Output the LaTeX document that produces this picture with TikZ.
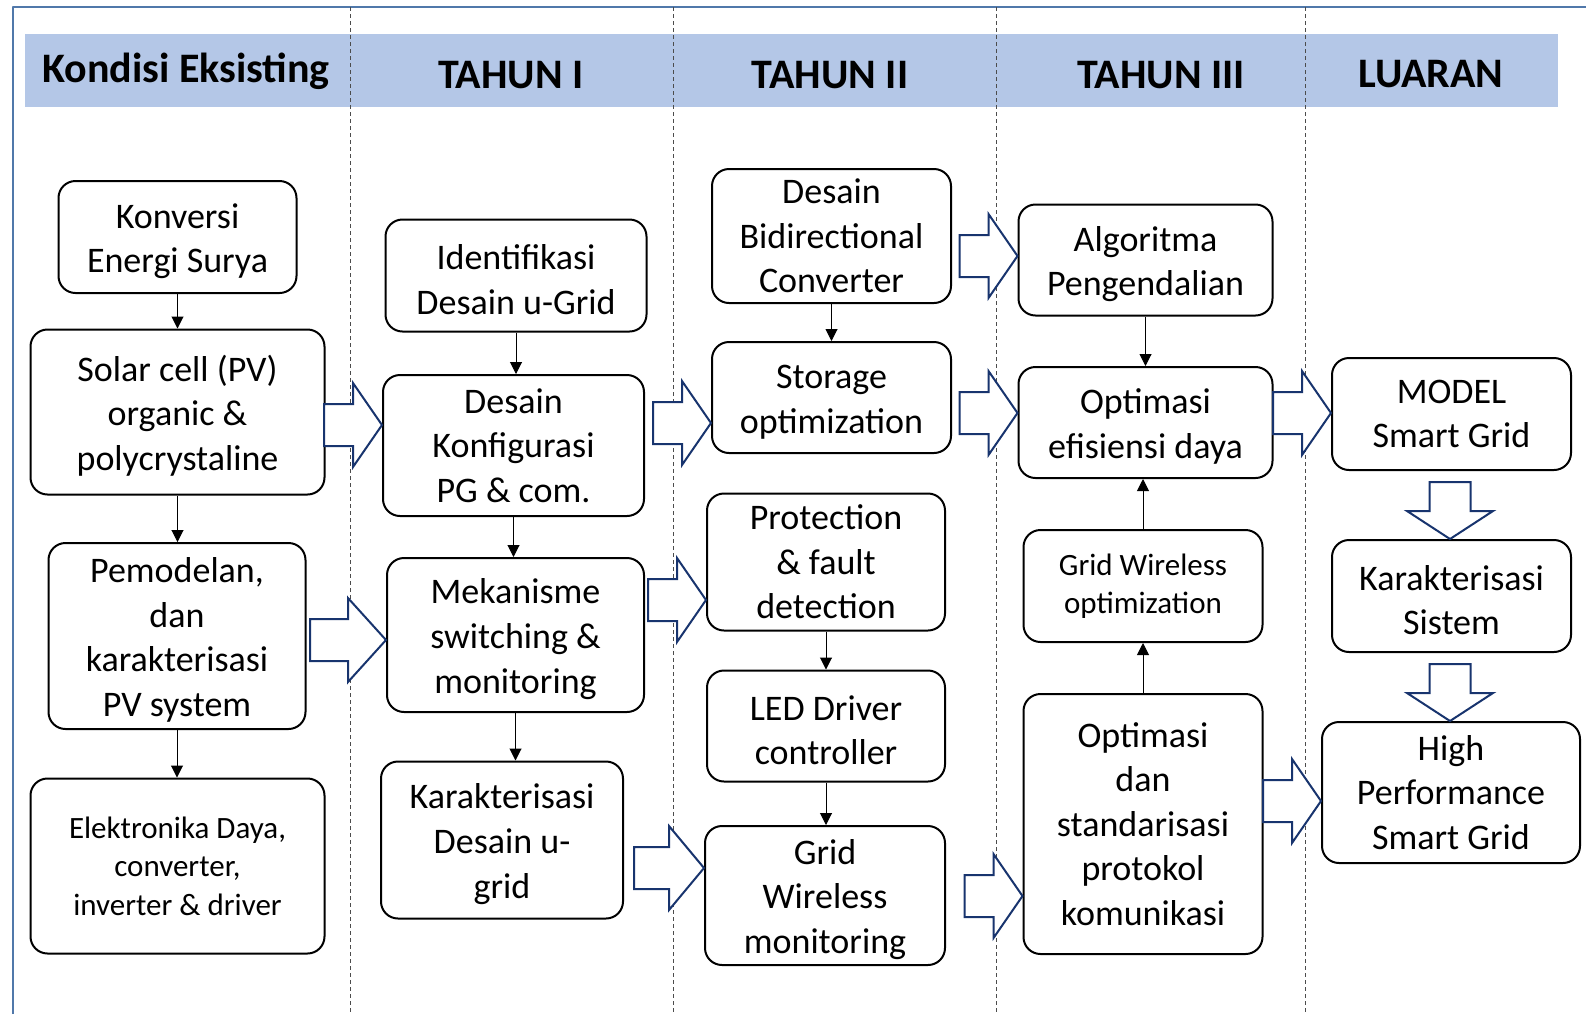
\documentclass[tikz,border=0pt]{standalone}
\usepackage{fontspec}
\setmainfont{Carlito}
\usetikzlibrary{arrows.meta}
\definecolor{garis}{RGB}{80,120,170}
\definecolor{pita}{RGB}{180,199,231}
\definecolor{panah}{RGB}{24,52,110}
\newcommand{\isi}{\fontsize{18}{22.3}\selectfont}
\newcommand{\isikecil}{\fontsize{15.5}{19.2}\selectfont}
\newcommand{\judul}{\fontsize{21}{25}\selectfont\bfseries}
\newcommand{\tg}{\rule{0pt}{16.5pt}}
% panah blok ke kanan: [panjang]{node tujuan}{y}
\newcommand{\panahkanan}[3][58]{%
	\begin{scope}[shift={(#2.west |- 0,#3)}]
		\draw[panahbesar] (0,0)--(-#1/2,-42)--(-#1/2,-21)--(-#1,-21)--(-#1,21)--(-#1/2,21)--(-#1/2,42)--cycle;
	\end{scope}}
% panah blok ke bawah: {node tujuan}{x}
\newcommand{\panahbawah}[2]{%
	\begin{scope}[shift={(#2,0 |- #1.north)}]
		\draw[panahbesar] (0,0)--(-43,-28)--(-20.5,-28)--(-20.5,-57)--(20.5,-57)--(20.5,-28)--(43,-28)--cycle;
	\end{scope}}
\begin{document}
\begin{tikzpicture}[x=0.5pt,y=-0.5pt,line join=round,
	kotak/.style={draw,fill=white,rounded corners=8.5pt,line width=1pt,align=center,inner sep=2pt,font=\isi},
	kecil/.style={font=\isikecil},
	ukuran/.style 2 args={minimum width=#1*0.5pt,minimum height=#2*0.5pt},
	kepala/.style={font=\judul,inner sep=0pt,anchor=base},
	panahtipis/.style={-{Triangle[length=6pt,width=6pt]},line width=0.5pt},
	panahbesar/.style={draw=panah,fill=white,line width=1pt,line join=miter}]
	\useasboundingbox (0,0) rectangle (1586,1014);
	% bingkai dan pita judul
	\draw[garis,line width=1pt] (13,1014)--(13,7)--(1586,7);
	\fill[pita] (25,34) rectangle (1558,107);
	\foreach \x in {350,673,996,1305}
		\draw[black!70,line width=0.5pt,dash pattern=on 2pt off 1.5pt] (\x,7)--(\x,1014);
	\node[kepala] (h1) at (186,82) {Kondisi Eksisting};
	\node[kepala] (h2) at (511,88) {TAHUN I};
	\node[kepala] (h3) at (830,88) {TAHUN II};
	\node[kepala] (h4) at (1161,88) {TAHUN III};
	\node[kepala] (h5) at (1431,87) {LUARAN};
	% kondisi eksisting
	\node[kotak,ukuran={238}{112}] (konversi) at (177.5,237) {\tg Konversi\\Energi Surya};
	\node[kotak,ukuran={294}{165}] (solar) at (177.5,412) {\tg Solar cell (PV)\\organic \&\\polycrystaline};
	\node[kotak,ukuran={257}{186}] (pemodelan) at (177,636) {\tg Pemodelan,\\dan\\karakterisasi\\PV system};
	\node[kotak,kecil,ukuran={294}{175}] (elektronika) at (177.5,866) {Elektronika Daya,\\converter,\\inverter \& driver};
	% tahun I
	\node[kotak,ukuran={261}{112}] (identifikasi) at (516,275.5) {\tg Identifikasi\\Desain u-Grid};
	\node[kotak,ukuran={261}{141}] (desain) at (513.5,445.5) {Desain\\Konfigurasi\\PG \& com.};
	\node[kotak,ukuran={257}{154}] (mekanisme) at (515.5,635) {\tg Mekanisme\\switching \&\\monitoring};
	\node[kotak,ukuran={242}{157}] (karakterisasi) at (502,840) {\tg Karakterisasi\\Desain u-\\grid};
	% tahun II
	\node[kotak,ukuran={239}{134}] (bidirectional) at (831.5,236) {Desain\\Bidirectional\\Converter};
	\node[kotak,ukuran={239}{111}] (storage) at (831.5,397.5) {\tg Storage\\optimization};
	\node[kotak,ukuran={238}{137}] (protection) at (826,562) {Protection\\\& fault\\detection};
	\node[kotak,ukuran={238}{111}] (led) at (826,726) {\tg LED Driver\\controller};
	\node[kotak,ukuran={240}{139}] (gridmon) at (825,895.5) {\tg Grid\\Wireless\\monitoring};
	% tahun III
	\node[kotak,ukuran={254}{111}] (algoritma) at (1145.5,260) {\tg Algoritma\\Pengendalian};
	\node[kotak,ukuran={254}{111}] (optimasi) at (1145.5,422.5) {\tg Optimasi\\efisiensi daya};
	\node[kotak,kecil,ukuran={239}{112}] (gridopt) at (1143,586) {Grid Wireless\\optimization};
	\node[kotak,ukuran={239}{260}] (protokol) at (1143,824) {Optimasi\\dan\\standarisasi\\protokol\\komunikasi};
	% luaran
	\node[kotak,ukuran={239}{112}] (model) at (1451.5,414) {MODEL\\Smart Grid};
	\node[kotak,ukuran={239}{112}] (sistem) at (1451.5,596) {\tg Karakterisasi\\Sistem};
	\node[kotak,ukuran={258}{141}] (high) at (1451,792.5) {High\\Performance\\Smart Grid};
	% panah tipis
	\draw[panahtipis] (konversi.south)--(konversi.south |- solar.north);
	\draw[panahtipis] (solar.south)--(solar.south |- pemodelan.north);
	\draw[panahtipis] (pemodelan.south)--(pemodelan.south |- elektronika.north);
	\draw[panahtipis] (identifikasi.south)--(identifikasi.south |- desain.north);
	\draw[panahtipis] (desain.south)--(desain.south |- mekanisme.north);
	\draw[panahtipis] (mekanisme.south)--(mekanisme.south |- karakterisasi.north);
	\draw[panahtipis] (bidirectional.south)--(bidirectional.south |- storage.north);
	\draw[panahtipis] (protection.south)--(protection.south |- led.north);
	\draw[panahtipis] (led.south)--(led.south |- gridmon.north);
	\draw[panahtipis] (algoritma.south)--(algoritma.south |- optimasi.north);
	\draw[panahtipis] (gridopt.north)--(gridopt.north |- optimasi.south);
	\draw[panahtipis] (protokol.north)--(protokol.north |- gridopt.south);
	% panah blok
	\panahkanan{desain}{425}
	\panahkanan[76]{mekanisme}{640}
	\panahkanan{storage}{423}
	\panahkanan{protection}{600}
	\panahkanan[70]{gridmon}{868}
	\panahkanan{algoritma}{256}
	\panahkanan{optimasi}{413}
	\panahkanan{protokol}{896}
	\panahkanan{model}{413}
	\panahkanan{high}{801}
	\panahbawah{sistem}{1450}
	\panahbawah{high}{1450}
\end{tikzpicture}
\end{document}
